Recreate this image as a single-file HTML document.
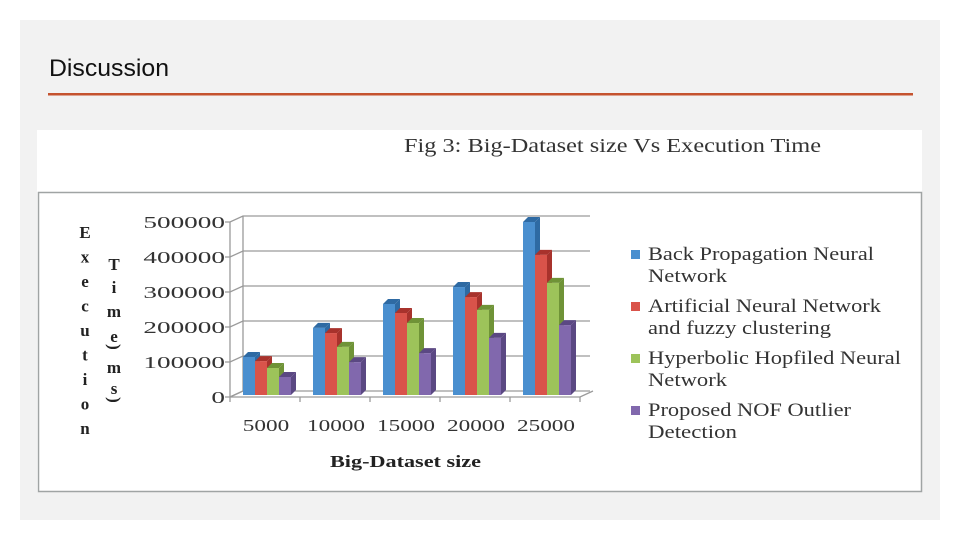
<!DOCTYPE html>
<html><head><meta charset="utf-8"><style>
html,body{margin:0;padding:0;background:#fff;width:960px;height:540px;overflow:hidden}
#slide{position:absolute;left:20px;top:20px;width:920px;height:500px;background:#f2f2f2}
</style></head><body>
<div id="slide"></div>
<svg id="svg" width="960" height="540" style="position:absolute;left:0;top:0">
<text x="49" y="76" font-family="Liberation Sans, sans-serif" font-size="24" fill="#111" textLength="120" lengthAdjust="spacingAndGlyphs">Discussion</text>
<rect x="48" y="93" width="865" height="2.5" fill="#c5532f"/>
<rect x="37" y="130" width="885" height="362" fill="#fff"/>
<text x="404" y="152" font-family="Liberation Serif, serif" font-size="20" fill="#333" textLength="417" lengthAdjust="spacingAndGlyphs">Fig 3: Big-Dataset size Vs Execution Time</text>
<rect x="38.5" y="192.5" width="883" height="299" fill="#fff" stroke="#a0a4a4" stroke-width="1.5"/>
<g id="chart" font-family="Liberation Serif, serif"></g>
</svg>
<script>
const categories=["5000","10000","15000","20000","25000"];
const seriesNames=["Back Propagation Neural|Network","Artificial Neural Network|and fuzzy clustering","Hyperbolic Hopfiled Neural|Network","Proposed NOF Outlier|Detection"];
const bpnn=[110000,194000,263000,312000,500000];
const annFuzzy=[98000,179000,237000,283000,405000];
const hhnn=[78000,139000,208000,246000,324000];
const nof=[52000,95000,121000,165000,202000];
const yTicks=[0,100000,200000,300000,400000,500000];
const series=[bpnn,annFuzzy,hhnn,nof];
const colors=[["#4a8fcf","#2e6aa3","#6aa8dd"],["#d9534a","#a8322c","#e57a72"],["#9dc35a","#6f9337","#b8d884"],["#8168ad","#5b4883","#9d88c5"]];
const NS="http://www.w3.org/2000/svg";
const g=document.getElementById('chart');
function mk(t,a){const e=document.createElementNS(NS,t);for(const k in a)e.setAttribute(k,a[k]);g.appendChild(e);return e;}
function stretch(t,w){t.setAttribute('textLength',w);t.setAttribute('lengthAdjust','spacingAndGlyphs');}
const x0=230,x1=580,base=397,dx=13,dy=-6,top500=222;
function yS(v){return base-(v/500000)*(base-top500);}
function yB(v){return 395-(v/500000)*(395-222);}
const gw=(x1-x0)/categories.length;
let e=mk('path',{d:`M${x0} ${base} L${x0+dx} ${base+dy} L${x0+dx} ${top500+dy} M${x0} ${base} L${x0} ${top500}`,stroke:'#9a9a9a',fill:'none','stroke-width':1.3});

yTicks.forEach(v=>{const y=yS(v);
 const l=mk('path',{d:`M${x0-5} ${y} L${x0} ${y} L${x0+dx} ${y+dy} L${x1+10} ${y+dy}`,stroke:'#9a9a9a',fill:'none','stroke-width':1.3});
 
 const s=String(v);
 const t=mk('text',{x:x0-5,y:y+6,'text-anchor':'end','font-size':17,fill:'#333'});t.textContent=s;
 stretch(t,s.length*13.6);
 });
e=mk('path',{d:`M${x0} ${base} L${x1} ${base} L${x1+dx} ${base+dy}`,stroke:'#9a9a9a',fill:'none','stroke-width':1.3});

for(let i=0;i<=categories.length;i++){const x=x0+i*gw;const t=mk('line',{x1:x,y1:base,x2:x,y2:base+5,stroke:'#9a9a9a','stroke-width':1.3});
 }
categories.forEach((c,i)=>{const t=mk('text',{x:x0+i*gw+gw/2+1,y:431,'text-anchor':'middle','font-size':17,fill:'#333'});t.textContent=c;
 stretch(t,c.length*11.6);
 });
const bw=12,d=5;
categories.forEach((c,i)=>{series.forEach((s,j)=>{
 const x=x0+13+i*gw+j*bw, y=yB(s[i]), b=395, col=colors[j];
 const grp=document.createElementNS(NS,'g');g.appendChild(grp);
 
 
 const side=document.createElementNS(NS,'path');side.setAttribute('d',`M${x+bw} ${y} L${x+bw+d} ${y-d} L${x+bw+d} ${b-d} L${x+bw} ${b}Z`);side.setAttribute('fill',col[1]);grp.appendChild(side);
 const tp=document.createElementNS(NS,'path');tp.setAttribute('d',`M${x} ${y} L${x+d} ${y-d} L${x+bw+d} ${y-d} L${x+bw} ${y}Z`);tp.setAttribute('fill',col[1]);grp.appendChild(tp);
 const fr=document.createElementNS(NS,'rect');fr.setAttribute('x',x);fr.setAttribute('y',y);fr.setAttribute('width',bw);fr.setAttribute('height',b-y);fr.setAttribute('fill',col[0]);grp.appendChild(fr);
});});
e=mk('text',{x:330,y:467,'font-size':17,'font-weight':'bold',fill:'#222'});e.textContent='Big-Dataset size';
stretch(e,151);

"Execution".split('').forEach((ch,k)=>{const t=mk('text',{x:85,y:238+k*24.5,'text-anchor':'middle','font-size':17,'font-weight':'bold',fill:'#222'});t.textContent=ch;
 });
[["T",270],["i",293],["m",317],["e",342],[")",352],["m",373],["s",394],[")",405]].forEach(([ch,y])=>{
 const t=mk('text',{x:114,y:y,'text-anchor':'middle','font-size':17,'font-weight':'bold',fill:'#222'});t.textContent=ch;
 if(ch===')')t.setAttribute('transform',`rotate(90 114 ${y-5})`);
 });
const legendWidths=[[226,79],[233,183],[253,79],[203,89]];
seriesNames.forEach((n,j)=>{const y=260+j*52;
 const r=mk('rect',{x:631,y:y-10,width:9,height:9,fill:colors[j][0]});
 const p=n.split('|');
 const t=mk('text',{x:648,y:y,'font-size':18.5,fill:'#333'});t.textContent=p[0];
 stretch(t,legendWidths[j][0]);
 
 const t2=mk('text',{x:648,y:y+22,'font-size':18.5,fill:'#333'});t2.textContent=p[1];
 stretch(t2,legendWidths[j][1]);
 });
</script>
</body></html>
